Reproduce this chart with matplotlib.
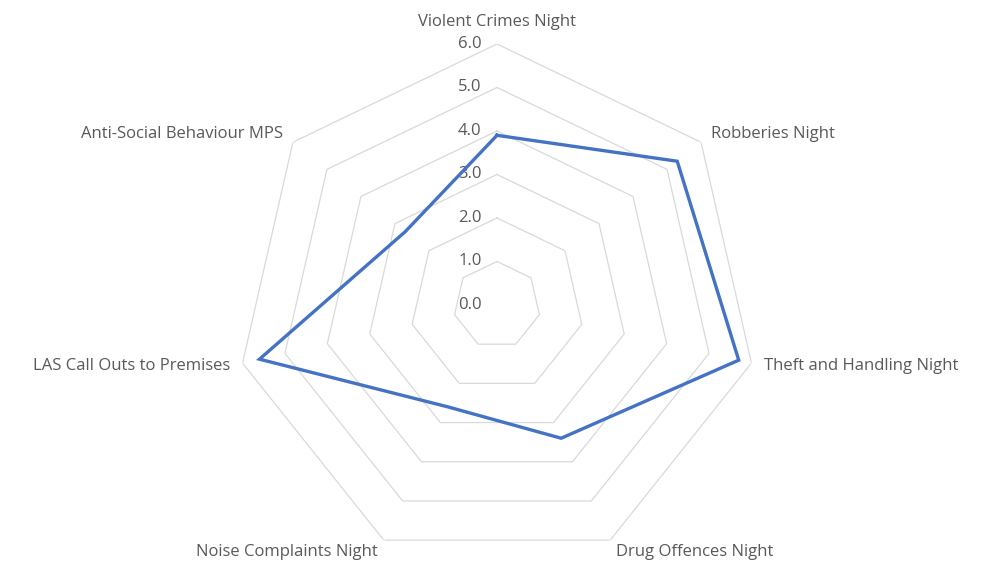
import numpy as np
import matplotlib
matplotlib.use("Agg")
import matplotlib.pyplot as plt

# Data
categories = ["Violent Crimes Night", "Robberies Night", "Theft and Handling Night",
              "Drug Offences Night", "Noise Complaints Night", "LAS Call Outs to Premises",
              "Anti-Social Behaviour MPS"]
values = [3.9, 5.3, 5.7, 3.4, 2.6, 5.6, 2.7]
ring_values = [0, 1, 2, 3, 4, 5, 6]

LINE_COLOR = "#4472C4"
GRID_COLOR = "#D9D9D9"
TEXT_COLOR = "#595959"
FONT = "Open Sans"

plt.rcParams["font.family"] = [FONT, "DejaVu Sans"]

fig = plt.figure(figsize=(9.91, 5.63), dpi=100)
ax = fig.add_axes([0.2381, -0.0053, 0.5268, 0.9272], projection="polar")
ax.set_theta_zero_location("N")
ax.set_theta_direction(-1)
ax.set_ylim(0, 6)
ax.grid(False)
ax.set_xticks([])
ax.set_yticks([])
ax.spines["polar"].set_visible(False)

n = len(categories)
angles = np.arange(n) * 2 * np.pi / n
closed = np.append(angles, angles[0])

# heptagon gridlines
for r in ring_values[1:]:
    ax.plot(closed, [r] * (n + 1), color=GRID_COLOR, lw=0.9, zorder=1)

# ring labels
for r in ring_values:
    ax.annotate(f"{r:.1f}", xy=(0, r), xytext=(-11, 0), textcoords="offset points",
                ha="right", va="center", fontsize=12, color=TEXT_COLOR)

# series
ax.plot(closed, values + values[:1], color=LINE_COLOR, lw=2.4, zorder=3,
        solid_joinstyle="miter")

# category labels
for ang, name in zip(angles, categories):
    s = np.sin(ang)
    if abs(s) < 1e-6:
        ax.text(ang, 6.5, name, ha="center", va="center", fontsize=12, color=TEXT_COLOR)
    elif s > 0:
        ax.text(ang, 6.3, name, ha="left", va="center", fontsize=12, color=TEXT_COLOR)
    else:
        ax.text(ang, 6.3, name, ha="right", va="center", fontsize=12, color=TEXT_COLOR)

fig.savefig("out.png", dpi=100, facecolor="white")
